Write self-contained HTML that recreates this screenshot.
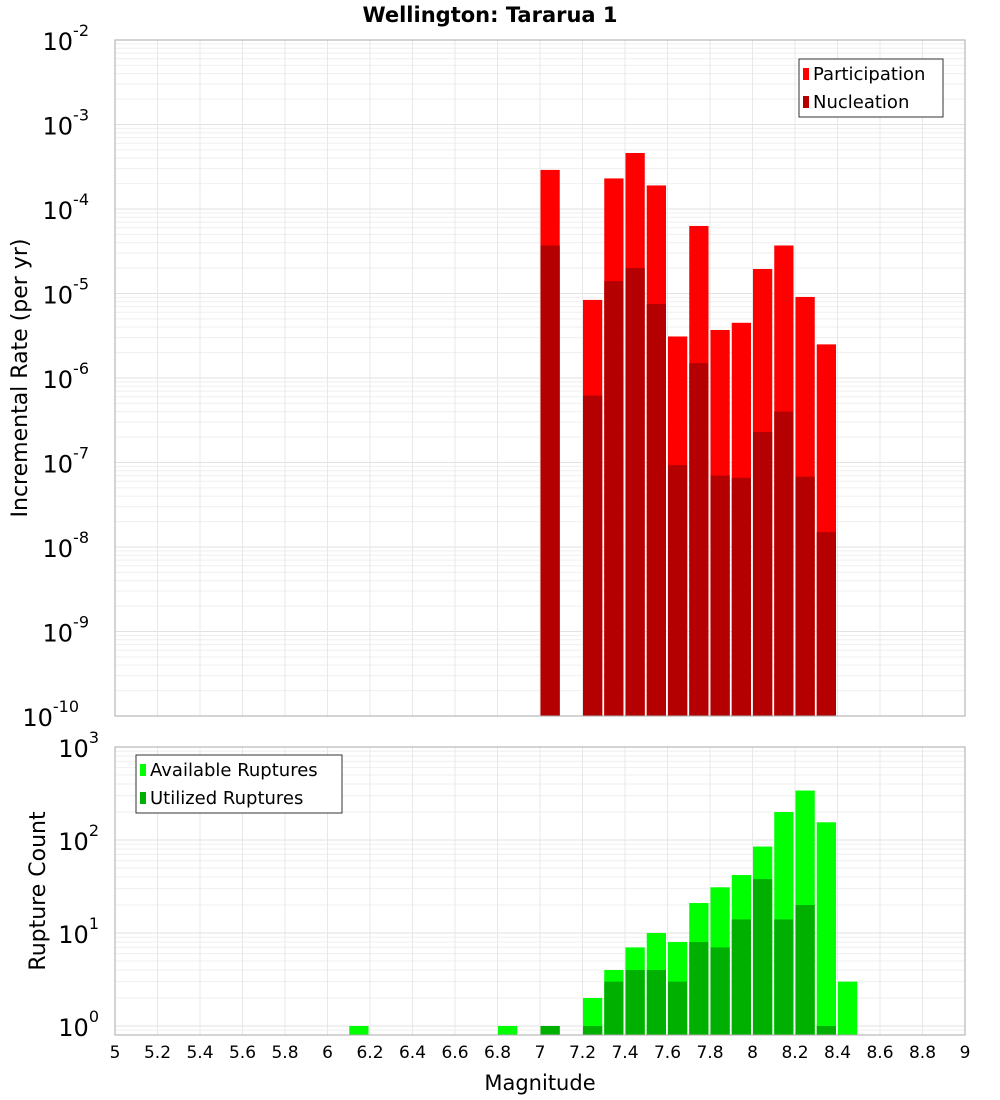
<!DOCTYPE html>
<html><head><meta charset="utf-8"><style>
body{margin:0;background:#fff;}
svg{display:block;font-family:"DejaVu Sans","Liberation Sans",sans-serif;}
</style></head><body>
<svg id="c" width="1000" height="1100" viewBox="0 0 1000 1100"></svg>
<script>
const bins=[7.0,7.2,7.3,7.4,7.5,7.6,7.7,7.8,7.9,8.0,8.1,8.2,8.3];
const participation=[2.9e-4,8.4e-6,2.3e-4,4.6e-4,1.9e-4,3.1e-6,6.3e-5,3.7e-6,4.5e-6,1.95e-5,3.7e-5,9.1e-6,2.5e-6];
const nucleation=[3.7e-5,6.2e-7,1.4e-5,2.0e-5,7.5e-6,9.3e-8,1.5e-6,7e-8,6.6e-8,2.3e-7,4e-7,6.8e-8,1.5e-8];
const binsB=[6.1,6.8,7.0,7.2,7.3,7.4,7.5,7.6,7.7,7.8,7.9,8.0,8.1,8.2,8.3,8.4];
const available=[1,1,1,2,4,7,10,8,21,31,42,85,200,340,155,3];
const binsU=[7.0,7.2,7.3,7.4,7.5,7.6,7.7,7.8,7.9,8.0,8.1,8.2,8.3];
const utilized=[1,1,3,4,4,3,8,7,14,38,14,20,1];
const xTicks=[5,5.2,5.4,5.6,5.8,6,6.2,6.4,6.6,6.8,7,7.2,7.4,7.6,7.8,8,8.2,8.4,8.6,8.8,9];
const topExp=[-2,-3,-4,-5,-6,-7,-8,-9,-10];
const botExp=[3,2,1,0];

const NS="http://www.w3.org/2000/svg";
const svg=document.getElementById('c');
function el(t,a,p){const e=document.createElementNS(NS,t);for(const k in a)e.setAttribute(k,a[k]);(p||svg).appendChild(e);return e;}
const L=115,R=965;
const x=m=>L+(m-5)/4*(R-L);
const T1=40,B1=716;
const y1=v=>T1+(-2-Math.log10(v))*(B1-T1)/8;
const T2=747,B2=1035,D2=93;
const y2=v=>T2+(3-Math.log10(v))*D2;

function grid(top,bot,yf,lo,hi,name){
  const g=el('g',{});
  
  
  for(let e=lo;e<hi;e++)for(let k=1;k<10;k++){const yy=yf(k*Math.pow(10,e));if(yy>=top&&yy<=bot)el('line',{x1:L,x2:R,y1:yy,y2:yy,stroke:k==1?'#e2e2e2':'#efefef','stroke-width':1},g);}
  xTicks.forEach(t=>el('line',{x1:x(t),x2:x(t),y1:top,y2:bot,stroke:'#e8e8e8','stroke-width':1},g));
}
grid(T1,B1,y1,-10,-2,'top-grid');
grid(T2,B2,y2,-1,3,'bottom-grid');

function bar(m,v,yf,bot,fill,name){
  const yy=yf(v);
  const r=el('rect',{x:x(m)+0.5,y:yy,width:x(m+0.1)-x(m)-2,height:bot-yy,fill:fill});
  
  
}
bins.forEach((m,i)=>bar(m,participation[i],y1,B1,'#ff0000','participation-bar'));
bins.forEach((m,i)=>bar(m,nucleation[i],y1,B1,'#b40000','nucleation-bar'));
binsB.forEach((m,i)=>bar(m,available[i],y2,B2,'#00ff00','available-bar'));
binsU.forEach((m,i)=>bar(m,utilized[i],y2,B2,'#00b000','utilized-bar'));

el('rect',{x:L,y:T1,width:R-L,height:B1-T1,fill:'none',stroke:'#aaa'});
el('rect',{x:L,y:T2,width:R-L,height:B2-T2,fill:'none',stroke:'#aaa'});

function ylab(e,yy,name){
  const t=el('text',{x:L-4,y:yy+10,'text-anchor':'end','font-size':24,fill:'#000'});
  
  
  const a=el('tspan',{},t);a.textContent='10';
  const b=el('tspan',{dy:-14,'font-size':16},t);b.textContent=e;
  t.setAttribute('x',L-4-(String(e).length*10)-2);
  t.setAttribute('text-anchor','end');
}
topExp.forEach(e=>ylab(e,y1(Math.pow(10,e)),'y-tick-label'));
botExp.forEach(e=>ylab(e,y2(Math.pow(10,e)),'y2-tick-label'));

xTicks.forEach(t=>{const tx=el('text',{x:x(t),y:1058,'text-anchor':'middle','font-size':17,fill:'#000'});
  
  
  tx.textContent=String(t);});

function txt(s,a,name){const t=el('text',a);t.textContent=s;return t;}
txt('Wellington: Tararua 1',{x:490,y:22,'text-anchor':'middle','font-size':21,'font-weight':'bold'},'chart-title');
txt('Magnitude',{x:540,y:1090,'text-anchor':'middle','font-size':21},'x-axis-title');
txt('Incremental Rate (per yr)',{x:0,y:0,'text-anchor':'middle','font-size':22,transform:'translate(27,378) rotate(-90)'},'y-axis-title');
txt('Rupture Count',{x:0,y:0,'text-anchor':'middle','font-size':22,transform:'translate(45,891) rotate(-90)'},'y2-axis-title');

function legend(bx,by,w,items,name){
  const g=el('g',{});
  
  
  el('rect',{x:bx,y:by,width:w,height:58,fill:'#fff',stroke:'#333'},g);
  items.forEach((it,i)=>{
    el('rect',{x:bx+4,y:by+9+i*28,width:6,height:12,fill:it[1]},g);
    const t=el('text',{x:bx+14,y:by+21+i*28,'font-size':18},g);t.textContent=it[0];
    
    
  });
}
legend(799,59,144,[['Participation','#ff0000'],['Nucleation','#b40000']],'top-legend');
legend(136,755,206,[['Available Ruptures','#00ff00'],['Utilized Ruptures','#00b000']],'bottom-legend');
</script>
</body></html>
